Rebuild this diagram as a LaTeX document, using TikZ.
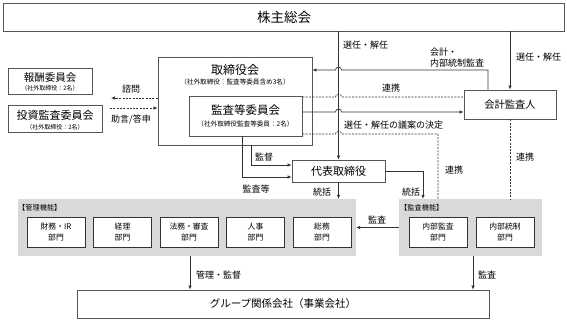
\documentclass[tikz,border=0pt]{standalone}
\usepackage{fontspec}
\setmainfont{Noto Sans CJK JP}
\usepackage{xcolor}
\definecolor{cLine}{HTML}{333333}
\definecolor{cBox}{HTML}{555555}
\definecolor{cFunc}{HTML}{D9D9D9}
\usepackage{tikz}
\usetikzlibrary{positioning,arrows.meta,calc}
\newcommand{\fsz}[2]{\fontsize{#1}{#2}\selectfont}
\tikzset{
  node-box/.style={draw=cBox,line width=0.8pt,fill=white,inner sep=0pt,align=center},
  node-dept/.style={draw=cLine,line width=1pt,fill=white,minimum width=58pt,
    minimum height=30pt,inner sep=0pt,align=center,font=\fsz{7.8}{11}},
  node-func/.style={fill=cFunc,inner sep=0pt},
  node-title/.style={inner sep=0pt},
  node-lbl/.style={inner sep=0pt,font=\fsz{9}{11}},
  arrow/.style={-{Latex[length=4pt,width=3.6pt]},line width=0.7pt,draw=cLine},
  arrow-dash/.style={-{Latex[length=4pt,width=3.6pt]},line width=0.7pt,draw=cLine,
    dash pattern=on 2pt off 1.3pt},
  link-dash/.style={line width=0.7pt,draw=cLine,dash pattern=on 2pt off 1.3pt},
}

\begin{document}
\begin{tikzpicture}[x=1pt,y=-1pt]
  \useasboundingbox (0,0) rectangle (567,319);
  % 株主総会
  \node[node-box,minimum width=561,minimum height=28,font=\fsz{13.5}{15}] (soukai) at (284,17) {株主総会};
  % 取締役会・監査等委員会
  \node[node-box,minimum width=154,minimum height=88] (tori) at (235,101) {};
  \node[node-title,font=\fsz{12}{13}] (tori-title) at (235,70) {取締役会};
  \node[node-title,font=\fsz{6.6}{7}] (tori-sub) at (235,82) {（社外取締役：監査等委員含め3名）};
  \node[node-box,minimum width=113,minimum height=40] (kansa) at (245.5,116) {};
  \node[node-title,font=\fsz{11.5}{13}] (kansa-title) at (245.5,110.5) {監査等委員会};
  \node[node-title,font=\fsz{6.6}{7}] (kansa-sub) at (245.5,123.5) {（社外取締役監査等委員：2名）};
  % 委員会
  \node[node-box,minimum width=84,minimum height=26] (housyu) at (50,81) {};
  \node[node-title,font=\fsz{10.5}{12}] (housyu-title) at (50,77.5) {報酬委員会};
  \node[node-title,font=\fsz{6}{6}] (housyu-sub) at (50,88.5) {（社外取締役：2名）};
  \node[node-box,minimum width=94,minimum height=27] (toushi) at (55,118.5) {};
  \node[node-title,font=\fsz{11}{12}] (toushi-title) at (55,115.5) {投資監査委員会};
  \node[node-title,font=\fsz{6}{6}] (toushi-sub) at (55,127) {（社外取締役：2名）};
  % 会計監査人・代表取締役
  \node[node-box,minimum width=92,minimum height=29,font=\fsz{10.3}{12}] (kaikei) at (510,104.5) {会計監査人};
  \node[node-box,minimum width=93,minimum height=22,font=\fsz{11}{12}] (daihyo) at (338.5,171) {代表取締役};
  % 管理機能
  \node[node-func,minimum width=338,minimum height=57] (kanri) at (187,227.5) {};
  \node[node-title,anchor=west,font=\fsz{7.2}{8}] (kanri-title) at (18,207.5) {【管理機能】};
  \node[node-dept] (zaimu) at (56,232) {財務・IR\\部門};
  \node[node-dept,right=7.5pt of zaimu] (keiri) {経理\\部門};
  \node[node-dept,right=7.5pt of keiri] (houmu) {法務・審査\\部門};
  \node[node-dept,right=7.5pt of houmu] (jinji) {人事\\部門};
  \node[node-dept,right=7.5pt of jinji] (soumu) {総務\\部門};
  % 監査機能
  \node[node-func,minimum width=143,minimum height=57] (kansafunc) at (470.5,227.5) {};
  \node[node-title,anchor=west,font=\fsz{7.2}{8}] (kansafunc-title) at (400,207.5) {【監査機能】};
  \node[node-dept] (naibu) at (438,232) {内部監査\\部門};
  \node[node-dept,right=8pt of naibu] (tousei) {内部統制\\部門};
  % グループ関係会社
  \node[node-box,minimum width=412,minimum height=28,font=\fsz{10.5}{12}] (group) at (283,304) {グループ関係会社（事業会社）};

  \coordinate (hop) at (daihyo.north);
  \coordinate (lv-a) at (0,70);
  \coordinate (lv-b) at (0,97);
  \coordinate (lv-c) at (0,112);
  \coordinate (lv-d) at (0,134);
  % 選任・解任
  \draw[arrow] (soukai.south -| daihyo.north) -- (daihyo.north);
  \node[node-lbl,anchor=west] (l-sennin1) at (343,45) {選任・解任};
  \draw[arrow] (soukai.south -| kaikei.north) -- (kaikei.north);
  \node[node-lbl,anchor=west] (l-sennin2) at (516,57) {選任・解任};
  % 会計・内部統制監査
  \draw[arrow] ($(kaikei.north)+(-22,0)$) |- ($(hop |- lv-a)+(3,0)$)
    arc[start angle=0,end angle=-180,radius=3] -- (tori.east |- lv-a);
  \node[node-lbl,anchor=south west,align=left] (l-kaikei) at (430,67) {会計・\\内部統制監査};
  % 連携
  \draw[link-dash] (kansa.east |- lv-b) -- ($(hop |- lv-b)+(-3,0)$)
    arc[start angle=180,end angle=360,radius=3] -- (kaikei.west |- lv-b);
  \node[node-lbl] (l-renkei1) at (391,88) {連携};
  % 選任・解任の議案の決定
  \draw[arrow] (kansa.east |- lv-c) -- ($(hop |- lv-c)+(-3,0)$)
    arc[start angle=180,end angle=360,radius=3] -- (kaikei.west |- lv-c);
  \node[node-lbl,anchor=west] (l-gian) at (344,125) {選任・解任の議案の決定};
  % 連携（監査機能）
  \coordinate (x-renkei) at (438,0);
  \draw[link-dash] (kansa.east |- lv-d) -- ($(hop |- lv-d)+(-3,0)$)
    arc[start angle=180,end angle=360,radius=3] -- (x-renkei |- lv-d) -- (x-renkei |- kansafunc.north);
  \node[node-lbl,anchor=west] (l-renkei2) at (445,170) {連携};
  \draw[link-dash] (kaikei.south) -- (kaikei.south |- kansafunc.north);
  \node[node-lbl,anchor=west] (l-renkei3) at (516,157) {連携};
  % 諮問・助言/答申
  \coordinate (shimon-end) at (111,98);
  \coordinate (toushin-start) at (110,108);
  \draw[arrow-dash] (tori.west |- shimon-end) -- (shimon-end);
  \draw[arrow-dash] (toushin-start) -- (tori.west |- toushin-start);
  \node[node-lbl] (l-shimon) at (131,89) {諮問};
  \node[node-lbl] (l-toushin) at (131,119) {助言/答申};
  % 監督・監査等
  \coordinate (x-kantoku) at (251,0);
  \coordinate (x-kansatou) at (242,0);
  \draw[arrow] (x-kantoku |- tori.south) |- ($(daihyo.west)+(0,-6)$);
  \draw[arrow] (x-kansatou |- kansa.south) |- ($(daihyo.west)+(0,6)$);
  \node[node-lbl] (l-kantoku) at (264,157) {監督};
  \node[node-lbl] (l-kansatou) at (256,189) {監査等};
  % 統括
  \draw[arrow] (daihyo.south) -- (daihyo.south |- kanri.north);
  \node[node-lbl] (l-toukatsu1) at (322,192) {統括};
  \coordinate (x-toukatsu) at (423,0);
  \draw[arrow] (daihyo.east) -| (x-toukatsu |- kansafunc.north);
  \node[node-lbl] (l-toukatsu2) at (411,192) {統括};
  % 監査（監査機能→管理機能）
  \draw[arrow] (kansafunc.west) -- (kansafunc.west -| kanri.east);
  \node[node-lbl] (l-kansa1) at (377,220) {監査};
  % グループへ
  \coordinate (x-kanri) at (190,0);
  \coordinate (x-kansa) at (473,0);
  \draw[arrow] (x-kanri |- kanri.south) -- (x-kanri |- group.north);
  \node[node-lbl,anchor=west] (l-kanri) at (196,275) {管理・監督};
  \draw[arrow] (x-kansa |- kansafunc.south) -- (x-kansa |- group.north);
  \node[node-lbl,anchor=west] (l-kansa2) at (478,275) {監査};
\end{tikzpicture}
\end{document}
